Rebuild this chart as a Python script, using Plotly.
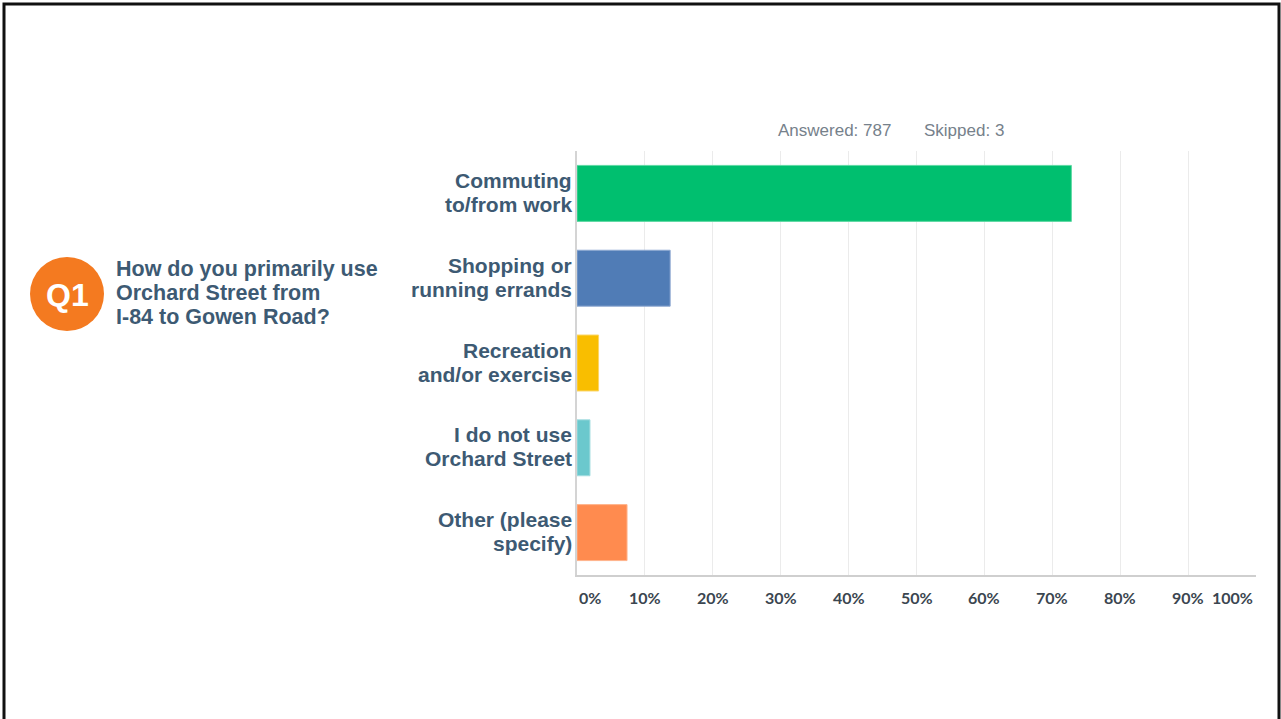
import plotly.graph_objects as go

# Survey question and response summary
QUESTION_NUMBER = "Q1"
QUESTION_LINES = ["How do you primarily use", "Orchard Street from", "I-84 to Gowen Road?"]
ANSWERED = 787
SKIPPED = 3

# Answer choices (each split into two display lines) and share of respondents (%)
CATEGORIES = [
    ["Commuting", "to/from work"],
    ["Shopping or", "running errands"],
    ["Recreation", "and/or exercise"],
    ["I do not use", "Orchard Street"],
    ["Other (please", "specify)"],
]
PERCENTS = [72.81, 13.72, 3.18, 1.91, 7.37]
COLORS = ["#00bf6f", "#507cb6", "#f9be00", "#6bc8cd", "#ff8b4f"]
EDGE_COLORS = ["#5fd9a3", "#8fa9d2", "#fbd566", "#a4dde0", "#ffb48d"]

TICK_VALUES = [0, 10, 20, 30, 40, 50, 60, 70, 80, 90, 100]
TICK_LABELS = ["0%", "10%", "20%", "30%", "40%", "50%", "60%", "70%", "80%", "90%", "100%"]

W, H = 1281, 719
LABEL_COLOR = "#3d5a73"
SANS = "Liberation Sans, Arial, sans-serif"


def px_x(p):
    return p / W


def px_y(p):
    return 1 - p / H


cat_keys = [" ".join(c) for c in CATEGORIES]

fig = go.Figure(
    go.Bar(
        x=PERCENTS,
        y=cat_keys,
        orientation="h",
        width=0.66,
        marker=dict(color=COLORS, line=dict(color=EDGE_COLORS, width=1)),
        hovertemplate="%{y}: %{x:.2f}%<extra></extra>",
    )
)

annotations = []

# Category labels, two lines each, right-aligned against the axis
for key, lines in zip(cat_keys, CATEGORIES):
    for i, line in enumerate(lines):
        annotations.append(dict(
            x=px_x(574), xref="paper", xanchor="right",
            y=key, yref="y", yanchor="middle", yshift=13 - 24 * i,
            text=f"<b>{line}</b>", showarrow=False,
            font=dict(family=SANS, size=21, color=LABEL_COLOR),
        ))

# Percent tick labels below the axis; outer labels kept inside the plot edges
for v, lab in zip(TICK_VALUES, TICK_LABELS):
    anchor = "left" if v == TICK_VALUES[0] else ("right" if v == TICK_VALUES[-1] else "center")
    shift = 0 if v == TICK_VALUES[0] else (-1 if v == TICK_VALUES[-1] else 0)
    annotations.append(dict(
        x=v, xref="x", xanchor=anchor, xshift=shift,
        y=px_y(597), yref="paper", yanchor="middle",
        text=lab, showarrow=False,
        font=dict(family="Lato, sans-serif", size=16, color="#3b4650", weight=700),
    ))

# Response counts above the chart
annotations.append(dict(
    x=px_x(776), xref="paper", xanchor="left", y=px_y(131), yref="paper", yanchor="middle",
    text=f"Answered: {ANSWERED}", showarrow=False,
    font=dict(family=SANS, size=17, color="#76818b"),
))
annotations.append(dict(
    x=px_x(922), xref="paper", xanchor="left", y=px_y(131), yref="paper", yanchor="middle",
    text=f"Skipped: {SKIPPED}", showarrow=False,
    font=dict(family=SANS, size=17, color="#76818b"),
))

# Question text
for i, line in enumerate(QUESTION_LINES):
    annotations.append(dict(
        x=px_x(114), xref="paper", xanchor="left",
        y=px_y(269 + 24 * i), yref="paper", yanchor="middle",
        text=f"<b>{line}</b>", showarrow=False,
        font=dict(family=SANS, size=21.5, color=LABEL_COLOR),
    ))

# Question number badge
annotations.append(dict(
    x=px_x(67), xref="paper", xanchor="center", y=px_y(295), yref="paper", yanchor="middle",
    text=f"<b>{QUESTION_NUMBER}</b>", showarrow=False,
    font=dict(family=SANS, size=32, color="white"),
))

shapes = [
    dict(type="circle", xref="paper", yref="paper",
         x0=px_x(30), x1=px_x(104), y0=px_y(331), y1=px_y(257),
         fillcolor="#f47a20", line=dict(width=0), layer="below"),
    dict(type="rect", xref="paper", yref="paper",
         x0=px_x(4), x1=px_x(1279), y0=px_y(730), y1=px_y(4),
         line=dict(color="#111111", width=3), fillcolor="rgba(0,0,0,0)"),
]

fig.update_layout(
    width=W, height=H,
    margin=dict(l=0, r=0, t=0, b=0),
    paper_bgcolor="white", plot_bgcolor="white",
    showlegend=False,
    annotations=annotations,
    shapes=shapes,
    xaxis=dict(
        domain=[px_x(577), px_x(1256)],
        range=[0, 100], tickvals=TICK_VALUES, showticklabels=False,
        showgrid=True, gridcolor="#ebebeb", gridwidth=1,
        zeroline=False, showline=True, linecolor="#cfcfcf", linewidth=2,
        fixedrange=True,
    ),
    yaxis=dict(
        domain=[px_y(575), px_y(151)],
        categoryorder="array", categoryarray=cat_keys, autorange="reversed",
        showticklabels=False, showgrid=False, zeroline=False,
        showline=True, linecolor="#d4d4d4", linewidth=2,
        fixedrange=True,
    ),
)

fig.write_html("out.html")
